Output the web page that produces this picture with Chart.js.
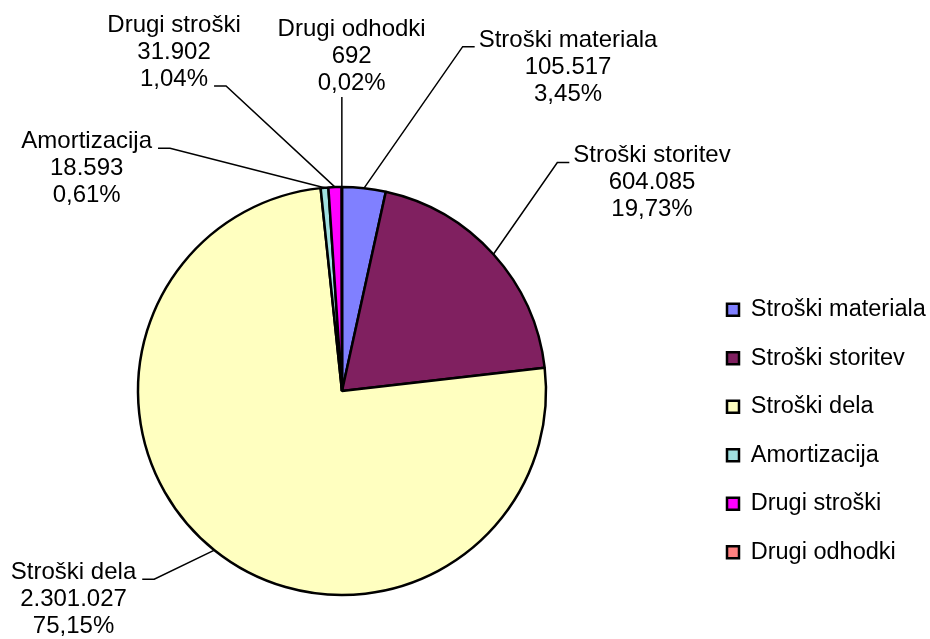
<!DOCTYPE html>
<html>
<head>
<meta charset="utf-8">
<script src="https://cdn.jsdelivr.net/npm/chart.js@4.4.1/dist/chart.umd.min.js"></script>
<style>
  html, body { margin: 0; padding: 0; background: #ffffff; }
  #wrap { width: 930px; height: 639px; position: relative; }
</style>
</head>
<body>
<div id="wrap"><canvas id="c" width="930" height="639"></canvas></div>
<script>
// ---- data ----
const categories = ['Stroški materiala', 'Stroški storitev', 'Stroški dela', 'Amortizacija', 'Drugi stroški', 'Drugi odhodki'];
const values = [105517, 604085, 2301027, 18593, 31902, 692];
const sliceColors = ['#8080FF', '#802060', '#FFFFC0', '#A0E0E0', '#FF00FF', '#FF8080'];

// ---- label layout (offsets of each label from its slice's outer edge point) ----
const labelOffsets = [[204, -141.5], [158.6, -91.8], [-140.9, 29.1], [-237.8, -39.5], [-161, -155.1], [9.8, -151]];
const labelAttach = [
  { line: 0, side: 'left' },
  { line: 0, side: 'left' },
  { line: 0, side: 'right' },
  { line: 0, side: 'right' },
  { line: 2, side: 'right' },
  { line: 2, side: 'vertical' }
];
const PIE_SHIFT_X = -9; // move the pie left inside the plot area

const total = values.reduce((a, b) => a + b, 0);
function fmtInt(n) { return String(n).replace(/\B(?=(\d{3})+(?!\d))/g, '.'); }
function fmtPct(v) { return (v / total * 100).toFixed(2).replace('.', ',') + '%'; }

const FAMILY = '"Liberation Sans", Arial, sans-serif';
const LABEL_FONT = '24px ' + FAMILY;
const LINE_H = 27;

const shiftPie = {
  id: 'shiftPie',
  afterLayout(chart) {
    const a = chart.chartArea;
    a.left += 2 * PIE_SHIFT_X;
    a.width = a.right - a.left;
  }
};

const outsideLabels = {
  id: 'outsideLabels',
  afterDatasetsDraw(chart) {
    const ctx = chart.ctx;
    const meta = chart.getDatasetMeta(0);
    ctx.save();
    ctx.font = LABEL_FONT;
    ctx.fillStyle = '#000';
    ctx.strokeStyle = '#000';
    ctx.lineWidth = 1.5;
    ctx.textAlign = 'center';
    ctx.textBaseline = 'alphabetic';
    meta.data.forEach((arc, i) => {
      const p = arc.getProps(['x', 'y', 'startAngle', 'endAngle', 'outerRadius'], true);
      const mid = (p.startAngle + p.endAngle) / 2;
      const ex = p.x + Math.cos(mid) * p.outerRadius;
      const ey = p.y + Math.sin(mid) * p.outerRadius;
      const tx = ex + labelOffsets[i][0];
      const ty = ey + labelOffsets[i][1];
      const lines = [categories[i], fmtInt(values[i]), fmtPct(values[i])];
      lines.forEach((t, k) => ctx.fillText(t, tx, ty + k * LINE_H));
      const at = labelAttach[i];
      const ly = ty + at.line * LINE_H;
      ctx.beginPath();
      if (at.side === 'vertical') {
        ctx.moveTo(ex, ey);
        ctx.lineTo(ex, ly + 7);
      } else {
        const w = ctx.measureText(lines[at.line]).width;
        let segEnd, elbow;
        if (at.side === 'left') {
          segEnd = tx - w / 2 - 4;
          elbow = segEnd - 12;
        } else {
          segEnd = tx + w / 2 + 6;
          elbow = segEnd + 12;
        }
        ctx.moveTo(ex, ey);
        ctx.lineTo(elbow, ly);
        ctx.lineTo(segEnd, ly);
      }
      ctx.stroke();
    });
    ctx.restore();
  }
};

Chart.defaults.color = '#000';
Chart.defaults.font.family = FAMILY;

new Chart(document.getElementById('c'), {
  type: 'pie',
  data: {
    labels: categories,
    datasets: [{
      data: values,
      backgroundColor: sliceColors,
      borderColor: '#000',
      borderWidth: 2.5,
      hoverOffset: 0
    }]
  },
  options: {
    responsive: false,
    animation: false,
    radius: 204,
    layout: { padding: { left: 0, right: 0, top: 193, bottom: 50 } },
    plugins: {
      tooltip: { enabled: false },
      legend: {
        position: 'right',
        align: 'end',
        maxWidth: 228,
        labels: {
          boxWidth: 12,
          boxHeight: 12,
          padding: 25,
          color: '#000',
          font: { size: 23.5, family: FAMILY }
        }
      }
    }
  },
  plugins: [shiftPie, outsideLabels]
});
</script>
</body>
</html>
